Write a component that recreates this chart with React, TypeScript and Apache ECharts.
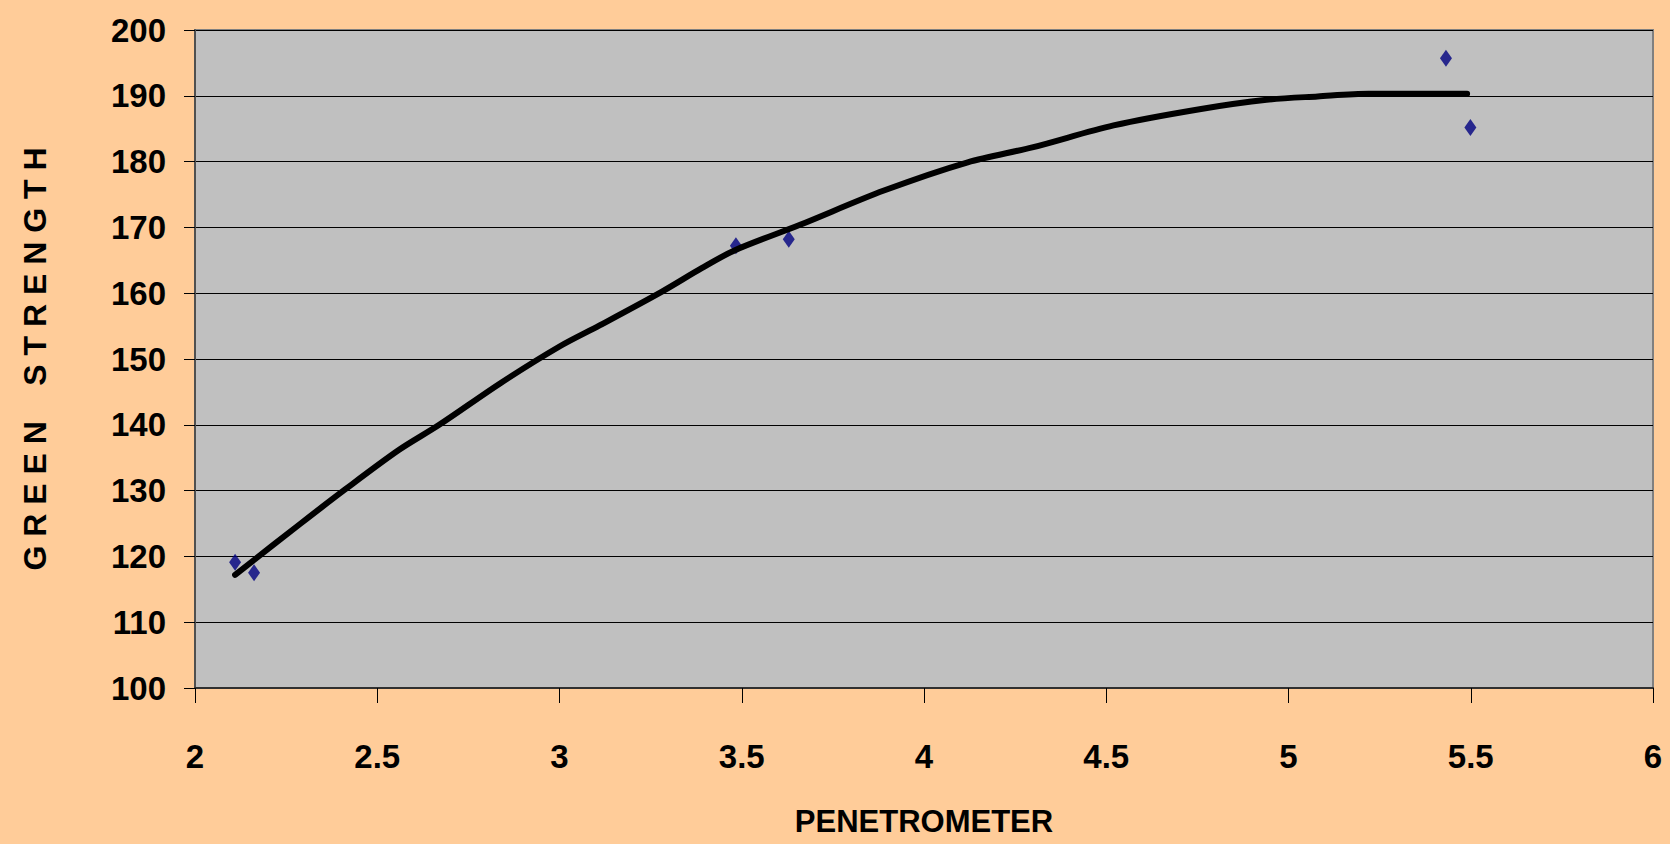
import React, { useEffect, useRef } from "react";
import * as echarts from "echarts";

const pointX = [2.11, 2.162, 3.484, 3.629, 5.432, 5.499];
const pointY = [119.1, 117.5, 167.2, 168.2, 195.7, 185.2];

const trendX = [2.11, 2.29, 2.41, 2.56, 2.67, 2.84, 3.0, 3.11, 3.28, 3.39, 3.48, 3.66, 3.89, 4.12, 4.3, 4.52, 4.76, 4.94, 5.08, 5.22, 5.49];
const trendY = [117.2, 125.0, 130.1, 136.2, 140.0, 146.4, 151.9, 155.1, 160.2, 163.8, 166.5, 170.4, 175.6, 179.9, 182.2, 185.5, 188.0, 189.4, 189.9, 190.3, 190.3];

const xTitle = "PENETROMETER";
const yTitle = "G R E E N    S T R E N G T H";

const FONT = '"Liberation Sans Narrow", "Arial Narrow", "Liberation Sans", Arial, sans-serif';

export default function App() {
  const ref = useRef<HTMLDivElement>(null);
  useEffect(() => {
    if (!ref.current) return;
    const chart = echarts.init(ref.current, null, { renderer: "svg" });
    chart.setOption({
      animation: false,
      backgroundColor: "#FFCC99",
      grid: {
        left: 195,
        right: 17,
        top: 30,
        bottom: 156,
        show: true,
        backgroundColor: "#C0C0C0",
        borderColor: "#808080",
        borderWidth: 2,
      },
      xAxis: {
        type: "value",
        min: 2,
        max: 6,
        interval: 0.5,
        name: xTitle,
        nameLocation: "middle",
        nameGap: 118,
        nameTextStyle: { fontFamily: FONT, fontWeight: "bold", fontSize: 31, color: "#000" },
        axisLine: { show: true, onZero: false, lineStyle: { color: "#303030", width: 2 } },
        axisTick: { show: true, inside: false, length: 15, lineStyle: { color: "#000", width: 1 } },
        axisLabel: { margin: 52, fontFamily: FONT, fontWeight: "bold", fontSize: 33, color: "#000" },
        splitLine: { show: false },
      },
      yAxis: {
        type: "value",
        min: 100,
        max: 200,
        interval: 10,
        name: yTitle,
        nameLocation: "middle",
        nameRotate: 90,
        nameGap: 144,
        nameTextStyle: { fontFamily: '"Liberation Sans", Arial, sans-serif', fontWeight: "bold", fontSize: 32, color: "#000" },
        axisLine: { show: true, lineStyle: { color: "#505050", width: 2 } },
        axisTick: { show: true, inside: false, length: 11, lineStyle: { color: "#000", width: 1 } },
        axisLabel: { margin: 29, fontFamily: FONT, fontWeight: "bold", fontSize: 33, color: "#000" },
        splitLine: { show: true, lineStyle: { color: "#000", width: 1 } },
      },
      series: [
        {
          type: "scatter",
          data: pointX.map((x, i) => [x, pointY[i]]),
          symbol: "diamond",
          symbolSize: [12, 17],
          itemStyle: { color: "#000080" },
          z: 2,
        },
        {
          type: "line",
          data: trendX.map((x, i) => [x, trendY[i]]),
          showSymbol: false,
          symbol: "none",
          smooth: 0.3,
          lineStyle: { color: "#000", width: 6, cap: "round", join: "round" },
          z: 3,
        },
      ],
    });
    return () => chart.dispose();
  }, []);
  return (
    <div
      ref={ref}
      style={{ position: "absolute", left: 0, top: 0, width: 1670, height: 844 }}
    />
  );
}
